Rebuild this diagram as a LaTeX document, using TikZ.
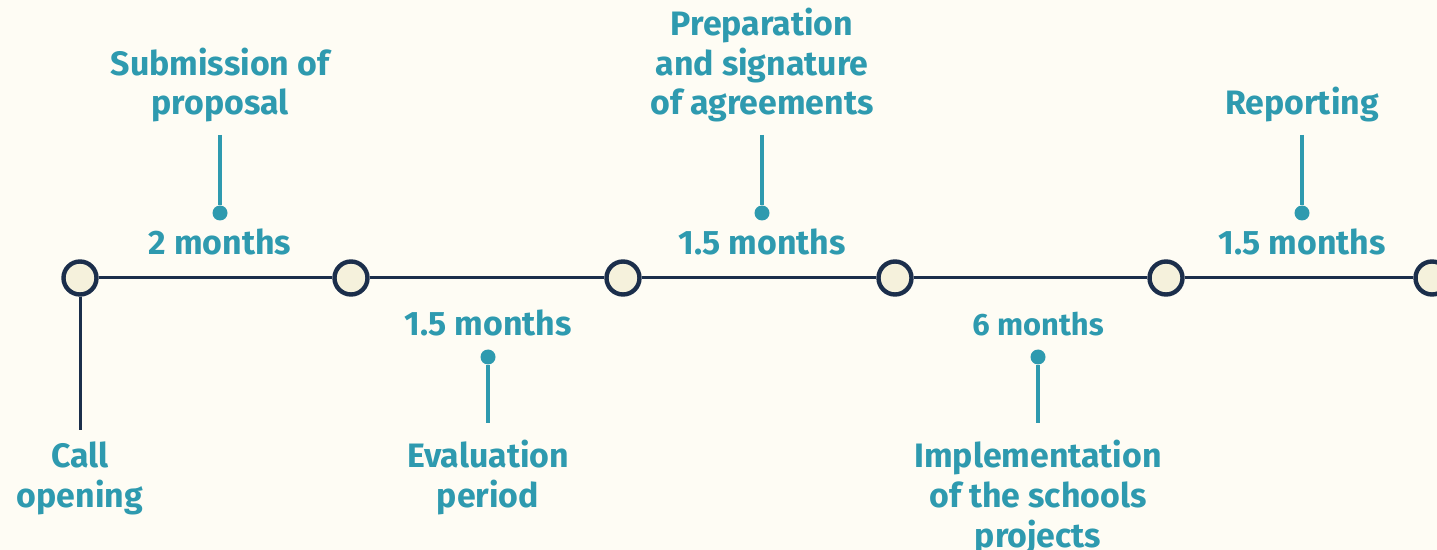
\documentclass[tikz,border=0pt]{standalone}
\usepackage{fontspec}
\setmainfont{Fira Sans}
\usetikzlibrary{positioning}
\definecolor{paper}{HTML}{FEFCF4}
\definecolor{navy}{HTML}{1B2E4B}
\definecolor{teal}{HTML}{2E9AAF}
\definecolor{cream}{HTML}{F5F1DC}
\tikzset{
	stage/.style={circle, draw=navy, fill=cream, line width=2.2bp, minimum size=16.5bp, inner sep=0pt},
	label/.style={text=teal, font=\fontsize{17}{20}\selectfont\bfseries, align=center, anchor=base, inner sep=0pt},
	span/.style={text=teal, font=\fontsize{17}{20}\selectfont\bfseries, anchor=base, inner sep=0pt},
	pin/.style={draw=teal, line width=1.6bp},
	pinhead/.style={circle, fill=teal, minimum size=7.5bp, inner sep=0pt}
}
\begin{document}
\begin{tikzpicture}[x=0.5bp, y=-0.5bp]
		%%%%% START %%%%%
		
		\fill[paper] (0, 0) rectangle (1437, 550);
		\clip (0, 0) rectangle (1437, 550);
		
		% stages on the time line
		\node[stage] (s1) at (80, 278) {};
		\node[stage] (s2) at (351, 278) {};
		\node[stage] (s3) at (623, 278) {};
		\node[stage] (s4) at (895, 278) {};
		\node[stage] (s5) at (1166, 278) {};
		\node[stage] (s6) at (1432, 278) {};
		\draw[navy, line width=1.5bp] (s1) -- (s2) -- (s3) -- (s4) -- (s5) -- (s6);
		
		% call opening
		\coordinate (c1) at (80, 430);
		\draw[navy, line width=1.5bp] (s1.south) -- (c1);
		\node[label] (t1) at (80, 507) {Call\\opening};
		
		% submission
		\node[label] (t2) at (220, 115) {Submission of\\proposal};
		\node[pinhead] (p2) at (220, 213) {};
		\coordinate (q2) at (220, 135);
		\draw[pin] (q2) -- (p2);
		\node[span] (d2) at (220, 255) {2 months};
		
		% evaluation
		\node[span] (d3) at (488, 336) {1.5 months};
		\node[pinhead] (p3) at (488, 357) {};
		\coordinate (q3) at (488, 423);
		\draw[pin] (p3) -- (q3);
		\node[label] (t3) at (488, 507) {Evaluation\\period};
		
		% agreements
		\node[label] (t4) at (762, 115) {Preparation\\and signature\\of agreements};
		\node[pinhead] (p4) at (762, 213) {};
		\coordinate (q4) at (762, 135);
		\draw[pin] (q4) -- (p4);
		\node[span] (d4) at (762, 255) {1.5 months};
		
		% implementation
		\node[span, font=\fontsize{15.5}{20}\selectfont\bfseries] (d5) at (1038, 336) {6 months};
		\node[pinhead] (p5) at (1038, 357) {};
		\coordinate (q5) at (1038, 423);
		\draw[pin] (p5) -- (q5);
		\node[label] (t5) at (1038, 547) {Implementation\\of the schools\\projects};
		
		% reporting
		\node[label] (t6) at (1302, 115) {Reporting};
		\node[pinhead] (p6) at (1302, 213) {};
		\coordinate (q6) at (1302, 135);
		\draw[pin] (q6) -- (p6);
		\node[span] (d6) at (1302, 255) {1.5 months};
		
		%%%%% END %%%%%
	\end{tikzpicture}
\end{document}
